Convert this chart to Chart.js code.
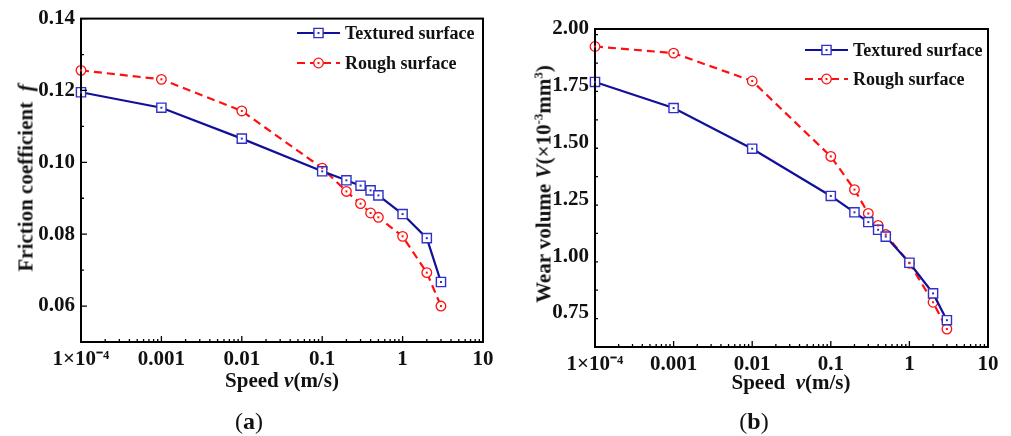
<!DOCTYPE html>
<html>
<head>
<meta charset="utf-8">
<script src="https://cdn.jsdelivr.net/npm/chart.js@4.4.1/dist/chart.umd.min.js"></script>
<style>
  body { margin: 0; background: #fff; width: 1011px; height: 436px; position: relative; overflow: hidden;
         font-family: "Liberation Serif", "Times New Roman", serif; color: #111; }
  .box { position: absolute; top: 0; height: 400px; }
  .lbl { position: absolute; white-space: nowrap; font-weight: bold; font-size: 21px; transform: translate(-50%, -50%); }
  .rot { transform: translate(-50%, -50%) rotate(-90deg); }
  .cap { position: absolute; font-size: 24px; transform: translate(-50%, -50%); }
  sup { font-size: 13px; vertical-align: 8px; line-height: 0; }
</style>
</head>
<body>
<div class="box" style="left:0;width:500px"><canvas id="fric"></canvas></div>
<div class="box" style="left:505px;width:506px"><canvas id="wear"></canvas></div>

<div class="lbl" style="left:282px;top:380px">Speed <i>v</i>(m/s)</div>
<div class="lbl rot" style="left:26px;top:178px">Friction coefficient&nbsp; <i>f</i></div>
<div class="cap" style="left:249px;top:421px">(<b>a</b>)</div>

<div class="lbl" style="left:791px;top:382px">Speed&nbsp;&nbsp;<i>v</i>(m/s)</div>
<div class="lbl rot" style="left:544px;top:184px">Wear volume <i>V</i>(×10<sup>-3</sup>mm<sup>3</sup>)</div>
<div class="cap" style="left:754px;top:421px">(<b>b</b>)</div>

<script>
// data
const speeds = [0.0001, 0.001, 0.01, 0.1, 0.2, 0.3, 0.4, 0.5, 1, 2, 3];
const frictionTextured = [0.1195, 0.1152, 0.1066, 0.0975, 0.0950, 0.0935, 0.0922, 0.0908, 0.0856, 0.0789, 0.0667];
const frictionRough = [0.1256, 0.1231, 0.1143, 0.0984, 0.0919, 0.0885, 0.0859, 0.0847, 0.0794, 0.0693, 0.0600];
const wearTextured = [1.767, 1.652, 1.473, 1.265, 1.193, 1.150, 1.116, 1.086, 0.971, 0.836, 0.718];
const wearRough = [1.923, 1.894, 1.771, 1.439, 1.293, 1.188, 1.135, 1.095, 0.969, 0.797, 0.679];

const seriesNames = ['Textured surface', 'Rough surface'];
const speedTicks = [0.0001, 0.001, 0.01, 0.1, 1, 10];
const speedTickLabels = ['1×10⁻⁴', '0.001', '0.01', '0.1', '1', '10'];
const frictionTicks = [0.06, 0.08, 0.10, 0.12, 0.14];
const wearTicks = [0.75, 1.00, 1.25, 1.50, 1.75, 2.00];

const BLUE = '#10109a', BLUE_MK = '#3030c8', RED = '#ff1010';
const tickFont = { family: 'Liberation Serif', weight: 'bold', size: 21 };

// frame, inward ticks, centre dots and the legend
const decor = {
  id: 'decor',
  afterDatasetsDraw(chart, args, opts) {
    const { ctx, chartArea: a, scales: { x, y } } = chart;
    ctx.save();
    ctx.strokeStyle = '#000';
    ctx.lineWidth = 2;
    ctx.strokeRect(a.left, a.top, a.right - a.left, a.bottom - a.top);

    ctx.lineWidth = 1.3;
    ctx.beginPath();
    for (let e = -4; e <= 1; e++) {
      for (let m = 1; m < 10; m++) {
        const v = m * Math.pow(10, e);
        if (v > 10) break;
        const px = x.getPixelForValue(v);
        ctx.moveTo(px, a.bottom);
        ctx.lineTo(px, a.bottom - (m === 1 ? 6 : 3));
      }
    }
    for (let v = opts.yMin; v <= y.max + 1e-9; v += opts.yMinor) {
      const py = y.getPixelForValue(v);
      const major = y.ticks.some(t => Math.abs(t.value - v) < 1e-6);
      ctx.moveTo(a.left, py);
      ctx.lineTo(a.left + (major ? 6 : 3), py);
    }
    ctx.stroke();

    // small dot in the middle of every marker
    chart.data.datasets.forEach((ds, i) => {
      ctx.fillStyle = ds.pointBorderColor;
      chart.getDatasetMeta(i).data.forEach(p => ctx.fillRect(p.x - 1, p.y - 1, 2, 2));
    });

    // legend
    ctx.font = 'bold 18px "Liberation Serif"';
    ctx.textBaseline = 'middle';
    chart.data.datasets.forEach((ds, i) => {
      const ly = opts.legend.y + i * opts.legend.dy;
      const lx = opts.legend.x;
      ctx.strokeStyle = ds.borderColor;
      ctx.lineWidth = ds.borderWidth;
      ctx.setLineDash(ds.borderDash || []);
      ctx.beginPath();
      ctx.moveTo(lx, ly);
      ctx.lineTo(lx + 43, ly);
      ctx.stroke();
      ctx.setLineDash([]);
      ctx.fillStyle = '#fff';
      ctx.strokeStyle = ds.pointBorderColor;
      ctx.lineWidth = ds.pointBorderWidth;
      Chart.helpers.drawPoint(ctx, { pointStyle: ds.pointStyle, radius: ds.pointRadius, borderWidth: ds.pointBorderWidth }, lx + 21.5, ly);
      ctx.fillStyle = ds.pointBorderColor;
      ctx.fillRect(lx + 20.5, ly - 1, 2, 2);
      ctx.fillStyle = '#111';
      ctx.fillText(ds.label, lx + 48, ly + 1);
    });
    ctx.restore();
  }
};

function lineSets(textured, rough) {
  return [
    {
      label: seriesNames[0],
      data: speeds.map((s, i) => ({ x: s, y: textured[i] })),
      borderColor: BLUE, borderWidth: 2.2,
      pointStyle: 'rect', pointRadius: 6.5, pointBorderWidth: 1.4,
      pointBorderColor: BLUE_MK, pointBackgroundColor: '#fff',
      clip: false
    },
    {
      label: seriesNames[1],
      data: speeds.map((s, i) => ({ x: s, y: rough[i] })),
      borderColor: RED, borderWidth: 2.2, borderDash: [8, 5],
      pointStyle: 'circle', pointRadius: 4.8, pointBorderWidth: 1.3,
      pointBorderColor: RED, pointBackgroundColor: '#fff',
      clip: false
    }
  ];
}

function makeChart(id, sets, cfg) {
  return new Chart(document.getElementById(id), {
    type: 'line',
    data: { datasets: sets },
    plugins: [decor],
    options: {
      responsive: true,
      maintainAspectRatio: false,
      animation: false,
      layout: { padding: cfg.padding },
      plugins: {
        legend: { display: false },
        tooltip: { enabled: false },
        decor: { yMin: cfg.yMin, yMinor: cfg.yMinor, legend: cfg.legend }
      },
      scales: {
        x: {
          type: 'logarithmic', min: 0.0001, max: 10,
          afterBuildTicks: s => { s.ticks = speedTicks.map(v => ({ value: v })); },
          afterFit: s => { s.height = cfg.xHeight; },
          border: { color: '#000', width: 2 },
          grid: { display: false, drawTicks: false },
          ticks: { autoSkip: false, maxRotation: 0, padding: 5, color: '#111', font: tickFont,
                   callback: (v, i) => speedTickLabels[i] }
        },
        y: {
          min: cfg.yMin, max: cfg.yMax,
          afterBuildTicks: s => { s.ticks = cfg.yTicks.map(v => ({ value: v })); },
          afterFit: s => { s.width = cfg.yWidth; },
          border: { color: '#000', width: 2 },
          grid: { display: false, drawTicks: false },
          ticks: { padding: 6, color: '#111', font: tickFont,
                   callback: v => v.toFixed(2) }
        }
      }
    }
  });
}

makeChart('fric', lineSets(frictionTextured, frictionRough), {
  padding: { left: 0, top: 17, right: 17, bottom: 0 },
  yWidth: 81, xHeight: 58,
  yMin: 0.05, yMax: 0.14, yMinor: 0.01, yTicks: frictionTicks,
  legend: { x: 297, y: 33, dy: 30 }
});

makeChart('wear', lineSets(wearTextured, wearRough), {
  padding: { left: 0, top: 29, right: 23, bottom: 0 },
  yWidth: 90, xHeight: 53,
  yMin: 0.6, yMax: 2.0, yMinor: 0.125, yTicks: wearTicks,
  legend: { x: 300, y: 50, dy: 29 }
});
</script>
</body>
</html>
